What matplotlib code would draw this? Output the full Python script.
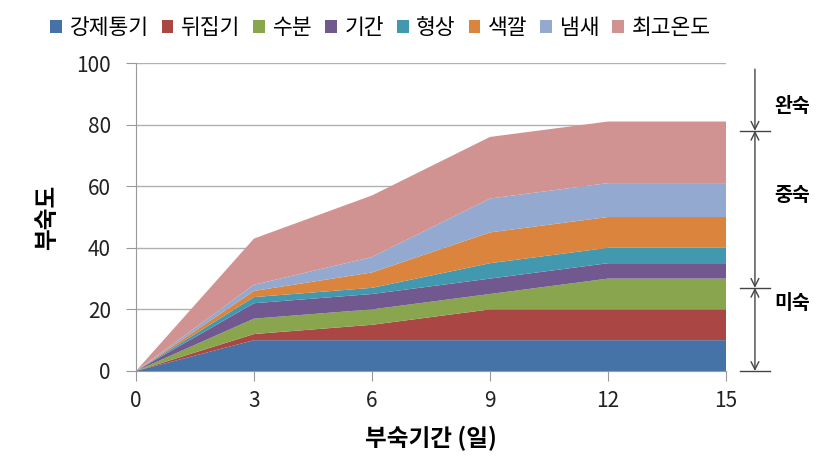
import numpy as np
import matplotlib.pyplot as plt

plt.rcParams['font.family'] = ['Noto Sans CJK KR', 'DejaVu Sans']

days = [0, 3, 6, 9, 12, 15]
labels = ['강제통기', '뒤집기', '수분', '기간', '형상', '색깔', '냄새', '최고온도']
forced_air = [0, 10, 10, 10, 10, 10]
turning = [0, 2, 5, 10, 10, 10]
moisture = [0, 5, 5, 5, 10, 10]
period = [0, 5, 5, 5, 5, 5]
shape = [0, 2, 2, 5, 5, 5]
colour = [0, 2, 5, 10, 10, 10]
smell = [0, 2, 5, 11, 11, 11]
max_temp = [0, 15, 20, 20, 20, 20]
colors = ['#4572A7', '#AA4643', '#89A54E', '#71588F', '#4198AF', '#DB843D', '#93A9CF', '#D19392']

# maturity stages on the right side
stage_bounds = [0, 27, 78, 98]
stage_names = ['미숙', '중숙', '완숙']
stage_label_y = [22, 57, 86]

fig = plt.figure(figsize=(8.27, 4.72), dpi=100)
ax = fig.add_axes([0.1644, 0.214, 0.7135, 0.6525])

series = [forced_air, turning, moisture, period, shape, colour, smell, max_temp]
ax.stackplot(days, *series, labels=labels, colors=colors, linewidth=0)

ax.set_xlim(0, 15)
ax.set_ylim(0, 100)
ax.set_xticks(days)
ax.set_yticks(range(0, 101, 20))
ax.tick_params(labelsize=15, color='#999999', length=7, labelcolor='#222222')
ax.tick_params(axis='y', pad=11)
ax.tick_params(axis='x', pad=7)
ax.grid(axis='y', color='#b0b0b0', linewidth=1)
ax.set_axisbelow(True)
for s in ['top', 'right']:
    ax.spines[s].set_visible(False)
for s in ['left', 'bottom']:
    ax.spines[s].set_color('#999999')

ax.set_xlabel('부숙기간 (일)', fontsize=17, fontweight='bold', va='center')
ax.xaxis.set_label_coords(0.5, -0.2175)
ax.set_ylabel('부숙도', fontsize=17, fontweight='bold', va='center')
ax.yaxis.set_label_coords(-0.151, 0.5)

# stage arrows
tr = ax.get_yaxis_transform()
xa = 1.049
styles = ['<->', '<->', '->']
for lo, hi, st in zip(stage_bounds[:-1], stage_bounds[1:], styles):
    ax.annotate('', xy=(xa, lo), xytext=(xa, hi), xycoords=tr, textcoords=tr,
                arrowprops=dict(arrowstyle=st, color='#444444', lw=1.0,
                                shrinkA=0, shrinkB=0, mutation_scale=14),
                annotation_clip=False)
for b in stage_bounds[:-1]:
    ax.plot([xa - 0.025, xa + 0.025], [b, b], transform=tr, color='#444444',
            lw=1.0, clip_on=False)
for name, y in zip(stage_names, stage_label_y):
    ax.text(1.112, y, name, transform=tr, fontsize=14, fontweight='bold',
            ha='center', va='center')

handles, lbls = ax.get_legend_handles_labels()
fig.legend(handles, lbls, loc='upper left', bbox_to_anchor=(0.04, 1.0), ncol=8,
           frameon=False, fontsize=15.5, handlelength=0.55, handleheight=0.55,
           handletextpad=0.35, columnspacing=0.6, borderaxespad=0.4)

fig.savefig('out.png')
